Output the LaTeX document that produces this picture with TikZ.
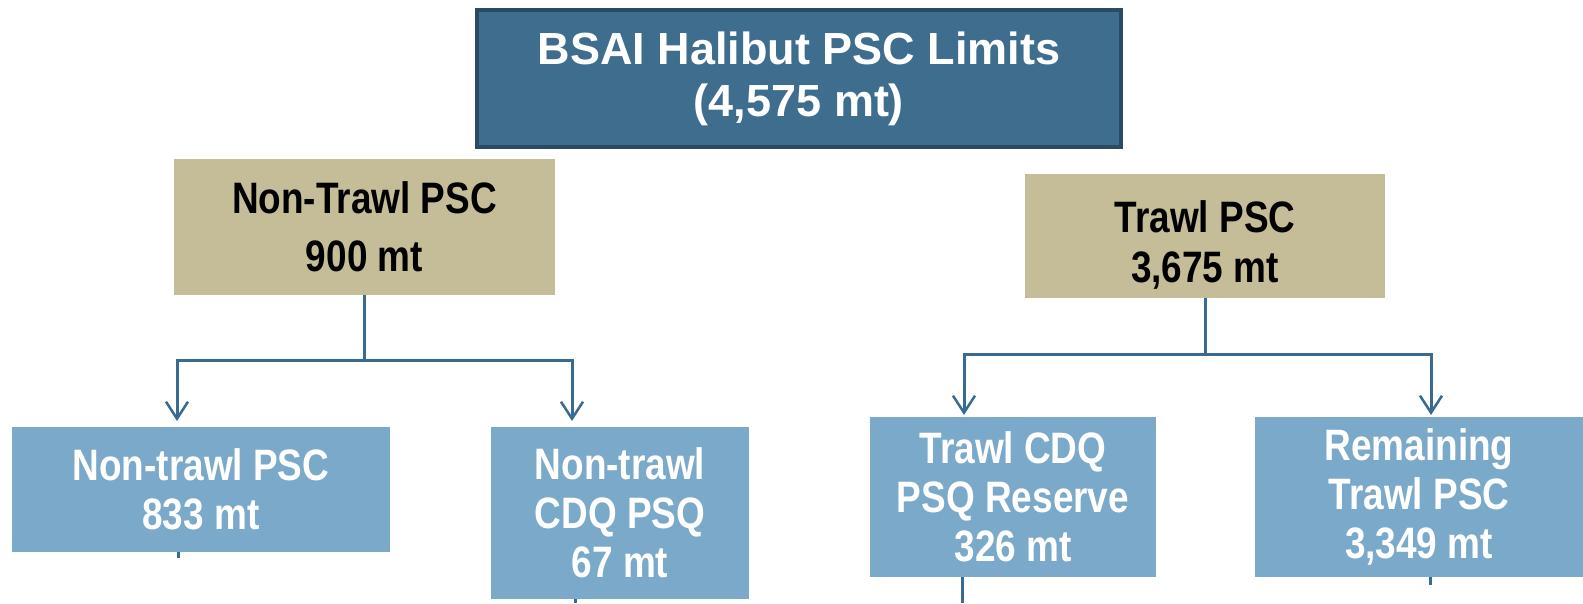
\documentclass[tikz,border=0pt]{standalone}
\usepackage{fontspec}
\setmainfont{Liberation Sans}
\newfontfamily\narrowfont[FakeStretch=0.84]{Liberation Sans}
\usetikzlibrary{arrows.meta}
\definecolor{topfill}{HTML}{3E6D8E}
\definecolor{topborder}{HTML}{2B4A63}
\definecolor{tanfill}{HTML}{C4BD97}
\definecolor{lightblue}{HTML}{7BA9C9}
\definecolor{linecol}{HTML}{386B93}
\begin{document}
\begin{tikzpicture}[x=1pt,y=1pt,
  box/.style={anchor=north west, inner sep=0pt, outer sep=0pt, align=center,
    font=\narrowfont\bfseries\fontsize{44}{49}\selectfont},
  topbox/.style={box, fill=topfill, draw=topborder, line width=4.5pt, text=white,
    font=\bfseries\fontsize{45}{52}\selectfont},
  tanbox/.style={box, fill=tanfill, text=black},
  bluebox/.style={box, fill=lightblue, text=white},
  conn/.style={draw=linecol, line width=3pt},
  arr/.style={conn, -{Straight Barb[length=17pt,width=22pt,line width=2.5pt]}}]
\useasboundingbox (0,0) rectangle (1583,-603);

\node[topbox, minimum width=644, minimum height=137] (top) at (477,-10)
  {BSAI Halibut PSC Limits\\(4,575 mt)};
\node[tanbox, minimum width=381, minimum height=136,
  font=\narrowfont\bfseries\fontsize{44}{58}\selectfont] (nt) at (174,-159)
  {Non-Trawl PSC\\900 mt};
\node[tanbox, minimum width=360, minimum height=124,
  font=\narrowfont\bfseries\fontsize{44}{50}\selectfont] (tr) at (1025,-174)
  {\rule{0pt}{12pt}\\[-12pt]Trawl PSC\\3,675 mt};

\node[bluebox, minimum width=378, minimum height=125] (b1) at (12,-427)
  {Non-trawl PSC\\833 mt};
\node[bluebox, minimum width=258, minimum height=172] (b2) at (491,-427)
  {Non-trawl\\CDQ PSQ\\67 mt};
\node[bluebox, minimum width=286, minimum height=160] (b3) at (870,-417)
  {Trawl CDQ\\PSQ Reserve\\326 mt};
\node[bluebox, minimum width=328, minimum height=160] (b4) at (1255,-417)
  {Remaining\\Trawl PSC\\3,349 mt};

\coordinate (a1) at (177,-421);
\coordinate (a2) at (572,-421);
\coordinate (a3) at (964,-415);
\coordinate (a4) at (1431,-415);

\draw[arr] (nt.south) -- ++(0,-65) -| (a1);
\draw[arr] (nt.south) -- ++(0,-65) -| (a2);
\draw[arr] (tr.south) -- ++(0,-56) -| (a3);
\draw[arr] (tr.south) -- ++(0,-56) -| (a4);

\coordinate (s1) at (178,-558);
\coordinate (s2) at (575,-603);
\coordinate (s3) at (962,-603);
\coordinate (s4) at (1430,-585);
\draw[conn] (b1.south -| s1) -- (s1);
\draw[conn] (b2.south -| s2) -- (s2);
\draw[conn] (b3.south -| s3) -- (s3);
\draw[conn] (b4.south -| s4) -- (s4);
\end{tikzpicture}
\end{document}
